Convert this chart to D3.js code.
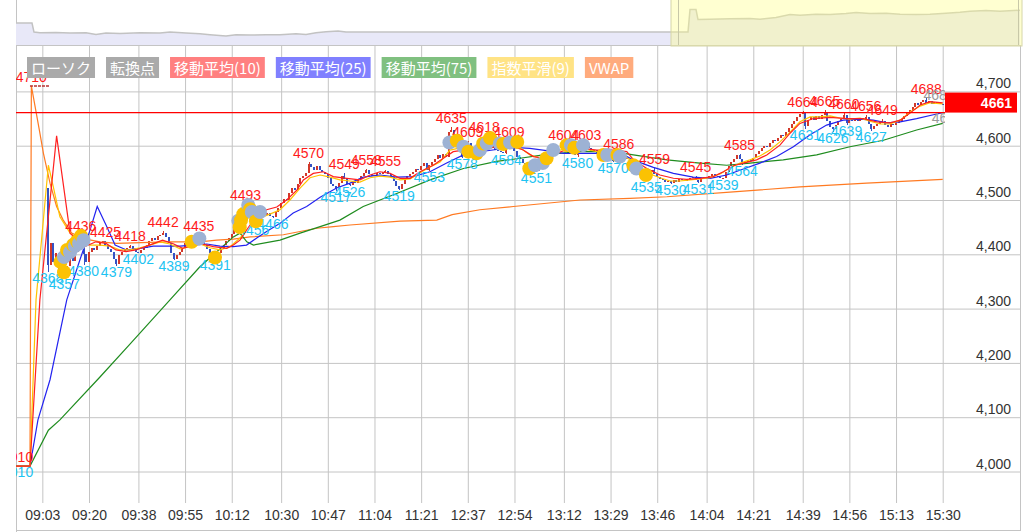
<!DOCTYPE html>
<html><head><meta charset="utf-8">
<script src="https://cdn.jsdelivr.net/npm/d3@7"></script>
<style>
body{margin:0;background:#fff;}
svg{display:block;font-family:"Liberation Sans",Arial,sans-serif;}
</style></head><body>
<svg id="c" width="1025" height="532"></svg>
<script>
// ---------- DATA ----------
const tickLabels = ["09:03","09:20","09:38","09:55","10:12","10:30","10:47","11:04","11:21","12:37","12:54","13:12","13:29","13:46","14:04","14:21","14:39","14:56","15:13","15:30"];
const yTicks = [4000,4100,4200,4300,4400,4500,4600,4700];
const lastIndex = 331;
const currentPrice = 4661;
const startIndex = 5;
const firstOpen = 4522;
const closes = [
4380,4420,4385,4402,4372,4390,4362,4378,4395,4388,
4405,4418,4430,4400,4385,4405,4412,4408,4416,4420,
4424,4418,4410,4404,4392,4382,4398,4404,4409,4412,
4416,4410,4405,4403,4408,4412,4418,4425,4430,4427,
4433,4436,4440,4432,4420,4402,4392,4398,4405,4412,
4420,4425,4428,4431,4430,4433,4425,4418,4410,4402,
4396,4393,4402,4410,4418,4425,4430,4438,4448,4460,
4470,4482,4490,4480,4458,4465,4470,4478,4475,4472,
4476,4470,4468,4478,4486,4494,4502,4500,4512,4522,
4518,4530,4540,4545,4550,4566,4560,4555,4562,4556,
4552,4548,4540,4530,4525,4520,4532,4545,4538,4530,
4528,4534,4532,4538,4545,4550,4556,4548,4544,4546,
4550,4548,4552,4554,4548,4542,4535,4526,4521,4530,
4538,4544,4548,4552,4558,4556,4562,4568,4556,4565,
4570,4576,4582,4578,4584,4580,4625,4628,4615,4600,
4590,4580,4595,4605,4598,4590,4600,4608,4615,4605,
4598,4600,4595,4592,4590,4588,4586,4600,4606,4598,
4590,4580,4575,4568,4560,4565,4558,4555,4553,4560,
4568,4575,4582,4590,4594,4598,4596,4600,4602,4596,
4590,4586,4582,4590,4596,4600,4601,4595,4590,4592,
4586,4584,4580,4578,4576,4574,4572,4578,4584,4580,
4578,4575,4570,4566,4560,4552,4545,4538,4545,4552,
4556,4548,4542,4538,4536,4534,4535,4532,4536,4534,
4538,4536,4535,4538,4540,4542,4536,4533,4538,4542,
4540,4545,4548,4545,4543,4540,4541,4552,4562,4570,
4576,4582,4575,4567,4570,4574,4572,4578,4584,4590,
4595,4600,4598,4605,4610,4608,4615,4620,4618,4625,
4632,4640,4645,4652,4658,4660,4636,4648,4652,4648,
4655,4650,4656,4662,4645,4635,4630,4638,4645,4650,
4656,4642,4648,4645,4650,4646,4650,4648,4653,4640,
4630,4636,4640,4644,4646,4638,4635,4640,4638,4642,
4645,4650,4655,4660,4665,4672,4678,4675,4680,4685,
4678,4682,4676,4680,4678,4676,4675];

// local highs (red) and lows (cyan): [index, value]
const highMarks = [[-1,4710],[-6,4010],[17,4436],[26,4425],[35,4418],[47,4442],[60,4435],[77,4493],[100,4570],[113,4549],[121,4558],[128,4555],[152,4635],[158,4609],[164,4618],[173,4609],[193,4604],[201,4603],[213,4586],[226,4559],[241,4545],[257,4585],[280,4664],[288,4665],[295,4660],[303,4656],[309,4649],[325,4688]];
const lowMarks = [[-6,4010],[5,4368],[11,4357],[18,4380],[30,4379],[38,4402],[51,4389],[66,4391],[80,4456],[87,4466],[110,4517],[115,4526],[133,4519],[144,4553],[156,4578],[172,4584],[183,4551],[198,4580],[211,4570],[223,4535],[232,4530],[242,4531],[251,4539],[258,4564],[281,4631],[291,4626],[296,4639],[305,4627]];
const endMarks = [[324,4684,"4688"],[327,4641,"4651"]];

// turning points: [index, value, kind] g=gold b=grey-blue
const turnPoints = [
[9.6,4386,"g"],[10.9,4367,"g"],[10.9,4395,"b"],[12,4408,"g"],[13.1,4404,"b"],[14.2,4417,"g"],[14.9,4415,"b"],[15.6,4424,"g"],[16.4,4420,"b"],[17.1,4434,"g"],[18,4426,"b"],
[57.4,4423,"g"],[60.2,4429,"b"],[65.9,4394,"g"],
[74.4,4462,"b"],[74.9,4450,"g"],[75.4,4463,"g"],[76.2,4474,"g"],[78,4491,"b"],[78.7,4483,"g"],[79.3,4478,"b"],[80.8,4461,"g"],[82.3,4478,"b"],
[151.3,4606,"b"],[154,4609,"g"],[156.4,4598,"b"],[158.2,4589,"g"],[161.2,4586,"g"],[162.4,4592,"b"],[163.6,4604,"g"],[164.9,4604,"b"],[166.1,4614,"g"],[169.7,4604,"b"],[170.9,4603,"g"],[173.4,4606,"b"],[176,4607,"g"],
[180.4,4558,"g"],[182.5,4564,"b"],[185.3,4568,"b"],[186.7,4577,"g"],[189.1,4592,"b"],[194,4601,"g"],[195.6,4601,"b"],[196.8,4596,"g"],[200,4601,"b"],
[207.4,4583,"g"],[208.8,4583,"b"],[212.5,4583,"g"],[213.4,4580,"b"],[218.3,4564,"g"],[219.4,4558,"b"],[222.9,4546,"g"]];

// indicator lines: [index, value]
const ma10 = [[-7,4010],[-1.5,4010],[2.1,4316],[8.2,4618],[13.1,4439],[18.3,4414],[22.5,4423],[26.2,4420],[29.8,4408],[33.5,4405],[37.1,4408],[42,4417],[46.8,4426],[50.5,4420],[54.1,4411],[60.4,4420],[65.3,4414],[70.2,4411],[72.6,4417],[75,4426],[77.5,4445],[79.9,4463],[84.7,4482],[88.4,4487],[92,4500],[95.7,4518],[98.1,4537],[101.7,4549],[105.4,4552],[109,4543],[113.9,4540],[118.7,4537],[122.4,4546],[126,4552],[129.7,4549],[133.3,4540],[137,4540],[140.6,4552],[145.4,4564],[149.1,4577],[152.7,4589],[156.4,4592],[162.4,4592],[168.5,4598],[174.6,4598],[178.2,4592],[181.9,4580],[185.5,4577],[190.4,4586],[195.3,4595],[200.1,4595],[205,4592],[211,4592],[215.9,4589],[218.4,4574],[223.2,4558],[228,4546],[232.9,4540],[237.7,4538],[242.6,4540],[247.4,4543],[251.1,4552],[254.7,4563],[258.4,4568],[263.2,4574],[266.9,4583],[271.7,4601],[275.4,4623],[279,4641],[283.9,4650],[290,4652],[296.1,4650],[302.1,4650],[307,4644],[311.8,4642],[315.5,4647],[319.1,4660],[322.8,4675],[326.4,4681],[331,4679]];
const ema9 = [[-7,4010],[-1.5,4010],[0.7,4316],[5.2,4564],[7,4524],[9.4,4469],[13.1,4439],[16.7,4426],[20.4,4417],[24,4417],[27.7,4415],[31.3,4408],[35,4408],[38.6,4412],[42.2,4417],[45.9,4423],[49.5,4419],[53.2,4410],[56.8,4414],[60.4,4419],[64.1,4412],[67.7,4408],[71.4,4414],[75,4430],[78.6,4452],[82.3,4467],[85.9,4474],[89.6,4482],[93.2,4500],[96.9,4522],[100.5,4541],[104.2,4546],[107.8,4542],[111.4,4537],[115.1,4535],[118.7,4533],[122.4,4541],[126,4544],[129.7,4542],[133.3,4537],[137,4539],[140.6,4550],[144.2,4561],[147.9,4570],[151.5,4592],[155.2,4596],[158.8,4588],[162.4,4592],[166.1,4599],[169.7,4601],[173.4,4601],[177,4596],[180.6,4583],[184.3,4577],[187.9,4583],[191.6,4592],[195.2,4596],[198.9,4596],[202.5,4592],[206.2,4588],[209.8,4587],[213.4,4585],[217.1,4574],[220.7,4559],[224.4,4548],[228,4541],[231.7,4535],[235.3,4535],[239,4537],[242.6,4539],[246.2,4541],[249.9,4548],[253.5,4559],[257.2,4568],[260.8,4574],[264.4,4581],[268.1,4592],[271.7,4607],[275.4,4625],[279,4644],[282.7,4653],[286.3,4653],[290,4655],[293.6,4651],[297.2,4649],[300.9,4651],[304.5,4645],[308.2,4640],[311.8,4640],[315.5,4647],[319.1,4662],[322.8,4673],[326.4,4679],[331,4677]];
const ma25 = [[-7,4010],[-1.5,4010],[1.4,4095],[5.8,4169],[11.9,4316],[16.7,4390],[20.4,4445],[23,4488],[26.2,4454],[29.5,4417],[33.7,4408],[38.6,4411],[43.4,4415],[48.3,4415],[53.1,4415],[58,4417],[62.9,4419],[67.7,4415],[72.6,4414],[77.4,4417],[81.1,4430],[84.7,4442],[89.6,4457],[94.4,4476],[99.3,4488],[104.2,4505],[110.2,4522],[115.1,4531],[119.9,4542],[126,4546],[132.1,4542],[138.1,4543],[144.2,4552],[150.3,4568],[156.4,4583],[162.4,4589],[168.5,4593],[174.6,4597],[180.6,4595],[186.7,4591],[192.8,4586],[198.9,4586],[205,4586],[211,4587],[214.7,4583],[219,4572],[225.6,4560],[232.9,4549],[240.1,4542],[246.3,4540],[252.3,4546],[258.4,4557],[264.4,4568],[270.5,4580],[276.6,4598],[282.7,4620],[288.7,4638],[294.8,4647],[300.9,4649],[305.7,4647],[310.6,4642],[315.5,4644],[321.5,4650],[327.6,4657],[331,4661]];
const ma75 = [[-7,4010],[-1.5,4010],[5.2,4076],[9.4,4095],[24,4174],[35,4235],[49.5,4316],[60.4,4377],[72.6,4432],[75,4439],[77.5,4423],[79.9,4417],[89.6,4426],[96.9,4439],[104.2,4451],[111.4,4463],[119.9,4488],[132.1,4512],[144.2,4537],[156.4,4558],[168.5,4571],[174.6,4575],[186.7,4584],[198.9,4589],[211,4589],[218.3,4583],[230.5,4574],[242.6,4568],[252.3,4564],[260.8,4568],[272.9,4574],[285.1,4583],[297.2,4598],[309.4,4610],[321.5,4629],[331,4641]];
const vwap = [[-7,4010],[-1.5,4010],[-1,4710],[1.9,4629],[3.4,4586],[5.8,4531],[8.2,4488],[10.6,4463],[13.7,4439],[17.9,4429],[24,4423],[30.1,4420],[36.1,4421],[48.3,4423],[60.4,4423],[66.5,4426],[72.6,4428],[78.7,4432],[90.8,4436],[96.9,4442],[103,4448],[109,4451],[115.1,4454],[133.3,4461],[146.7,4463],[152.3,4473],[162.4,4482],[174.6,4488],[186.7,4494],[198.9,4500],[217.1,4503],[230.5,4506],[254.7,4515],[279,4524],[303.3,4531],[331,4538]];

// navigator (longer history)
const navIdx = [0,8,9,12,20,27,35,40,45,52,62,72,77,85,92,97,105,110,117,125,132,140,145,150,155,161,165,336,337,340,341,347,357,367,372,380,387,392,400,407,415,420,427,435,442,450,457,465,472,477,485,492,502];
const navVal = [4289,4289,4010,3988,3998,3979,3988,3936,3979,3967,3988,3979,4010,3979,3957,3926,3886,3926,3917,3926,3926,3957,3936,3988,4019,4041,4010,4010,4710,4710,4400,4413,4422,4431,4413,4462,4555,4536,4567,4555,4586,4617,4586,4598,4567,4555,4567,4598,4629,4660,4679,4660,4691];
const navWindow = [327.5, 503];

const legendItems = ["ローソク","転換点","移動平均(10)","移動平均(25)","移動平均(75)","指数平滑(9)","VWAP"];
const legendColors = ["#aaaaaa","#aaaaaa","#ff8080","#8080ff","#80c080","#ffe385","#ffab7d"];

// ---------- DRAW ----------
const L = 16, R = 1021, T = 46, GB = 503, B = 531, DATA_R = 945;
const svg = d3.select('#c');
const xs = d3.scaleLinear().domain([0, lastIndex]).range([34.1, 942.7]);
const ys = d3.scaleLinear().domain([4000, 4700]).range([471.5, 91.4]);

function timeToIndex(t){const [h,m]=t.split(':').map(Number);const mm=h*60+m;return mm<=690?mm-540:151+(mm-750);}
const tickIdx = tickLabels.map(timeToIndex);

svg.append('defs').append('clipPath').attr('id','plot').append('rect')
  .attr('x',L).attr('y',T).attr('width',DATA_R-L).attr('height',GB-T);

// grid + axes
const gx = svg.append('g').attr('transform',`translate(0,${GB})`)
  .call(d3.axisBottom(xs).tickValues(tickIdx).tickFormat((d,k)=>tickLabels[k]).tickSize(-(GB-T)).tickPadding(7));
gx.select('.domain').remove();
gx.attr('font-size',14).attr('font-family','"Liberation Sans",Arial,sans-serif');
gx.selectAll('line').attr('stroke','#c4c4c4');
gx.selectAll('text').attr('fill','#333');

const gy = svg.append('g').attr('transform',`translate(${L},0)`)
  .call(d3.axisRight(ys).tickValues(yTicks).tickFormat(d3.format(',')).tickSize(R-L).tickPadding(0));
gy.select('.domain').remove();
gy.attr('font-size',14).attr('font-family','"Liberation Sans",Arial,sans-serif');
gy.selectAll('line').attr('stroke','#c4c4c4');
gy.selectAll('text').attr('x',1011-L).attr('text-anchor','end').attr('dy','-0.25em').attr('fill','#333');

// borders
const border = svg.append('g').attr('stroke','#c4c4c4').attr('shape-rendering','crispEdges');
border.append('line').attr('x1',L+0.5).attr('x2',L+0.5).attr('y1',0).attr('y2',B+1);
border.append('line').attr('x1',L).attr('x2',R).attr('y1',B-0.5).attr('y2',B-0.5);
border.append('line').attr('x1',R-0.5).attr('x2',R-0.5).attr('y1',T).attr('y2',B);

const plot = svg.append('g').attr('clip-path','url(#plot)');

// candles (open = previous close); wicks reach the marked highs / lows
const candles = closes.map((c,k)=>({i:startIndex+k, o:k===0?firstOpen:closes[k-1], c}));
const hiAt = new Map(highMarks.map(d=>[d[0],d[1]]));
const loAt = new Map(lowMarks.map(d=>[d[0],d[1]]));
candles.forEach(d=>{
  d.h = Math.max(d.o,d.c, hiAt.has(d.i)?hiAt.get(d.i):-Infinity);
  d.l = Math.min(d.o,d.c, loAt.has(d.i)?loAt.get(d.i):Infinity);
});
const cg = plot.append('g').attr('shape-rendering','crispEdges');
const col = d=>d.c>=d.o?'#d2382a':'#3452c4';
cg.selectAll('line').data(candles).join('line')
  .attr('x1',d=>Math.round(xs(d.i))+0.5).attr('x2',d=>Math.round(xs(d.i))+0.5)
  .attr('y1',d=>ys(d.h)).attr('y2',d=>ys(d.l)).attr('stroke',col);
cg.selectAll('rect').data(candles).join('rect')
  .attr('x',d=>Math.round(xs(d.i))-1).attr('width',2)
  .attr('y',d=>ys(Math.max(d.o,d.c))).attr('height',d=>Math.max(1,Math.abs(ys(d.o)-ys(d.c))))
  .attr('fill',col);

// indicator lines
const line = d3.line().x(d=>xs(d[0])).y(d=>ys(d[1]));
[[vwap,'#ff7a22'],[ma75,'#1f8c1f'],[ma25,'#2323f0'],[ema9,'#ffc400'],[ma10,'#ff2020']].forEach(([pts,c])=>{
  plot.append('path').datum(pts).attr('d',line).attr('fill','none').attr('stroke',c).attr('stroke-width',1.2);
});

// current price line
plot.append('line').attr('x1',L).attr('x2',DATA_R).attr('y1',ys(currentPrice)).attr('y2',ys(currentPrice))
  .attr('stroke','#ff0000').attr('stroke-width',1.2);

// high/low labels
const lab = plot.append('g').attr('font-size',14).attr('text-anchor','middle');
lab.selectAll('text.h').data(highMarks).join('text').attr('class','h')
  .attr('x',d=>xs(d[0])).attr('y',d=>ys(d[1])-4).attr('fill','#ff1a1a').text(d=>d[1]);
lab.selectAll('text.l').data(lowMarks).join('text').attr('class','l')
  .attr('x',d=>xs(d[0])).attr('y',d=>ys(d[1])+11).attr('fill','#1ec3f2').text(d=>d[1]);
// marker under the top high
plot.append('line').attr('x1',xs(-1.5)).attr('x2',xs(-1.5)+20).attr('y1',ys(4710)).attr('y2',ys(4710))
  .attr('stroke','#b83030').attr('stroke-width',1.5).attr('stroke-dasharray','3,1');

// end labels (grey), clipped at data edge
plot.append('g').attr('font-size',14).attr('fill','#9a9a9a').selectAll('text').data(endMarks).join('text')
  .attr('x',d=>xs(d[0])).attr('y',d=>ys(d[1])).text(d=>d[2]);

// turning points
plot.append('g').selectAll('circle').data(turnPoints).join('circle')
  .attr('cx',d=>xs(d[0])).attr('cy',d=>ys(d[1])).attr('r',7)
  .attr('fill',d=>d[2]==='g'?'#fbc203':'#9db2d4');

// price tag
svg.append('rect').attr('x',DATA_R).attr('y',ys(currentPrice)-20).attr('width',72).attr('height',20).attr('fill','#ff0000');
svg.append('text').attr('x',1012).attr('y',ys(currentPrice)-5).attr('text-anchor','end')
  .attr('font-size',14).attr('font-weight','bold').attr('fill','#fff').text(currentPrice);

// legend
const lg = svg.append('g').attr('font-family','"Noto Sans CJK JP",sans-serif').attr('font-size',15);
let lx = 27;
legendItems.forEach((t,k)=>{
  const g = lg.append('g');
  const r = g.append('rect').attr('y',57).attr('height',21).attr('fill',legendColors[k]);
  const tx = g.append('text').attr('x',lx+4).attr('y',73.5).attr('fill','#fff').text(t);
  const w = tx.node().getComputedTextLength()+8;
  r.attr('x',lx).attr('width',w);
  lx += w + 11;
});

// navigator
const nx = d3.scaleLinear().domain([0,502]).range([L,1020]);
const ny = d3.scaleLinear().domain([3590,5010]).range([45.5,0]);
const navData = navIdx.map((n,k)=>[n,navVal[k]]);
const nav = svg.append('g');
nav.append('path').datum(navData).attr('d',d3.area().x(d=>nx(d[0])).y0(45.5).y1(d=>ny(d[1])))
  .attr('fill','#e8e8f8');
nav.append('path').datum(navData).attr('d',d3.line().x(d=>nx(d[0])).y(d=>ny(d[1])))
  .attr('fill','none').attr('stroke','#c2c2c2').attr('stroke-width',1.5);
nav.append('line').attr('x1',L).attr('x2',R).attr('y1',45.5).attr('y2',45.5).attr('stroke','#c4c4c4');
const wx0 = nx(navWindow[0]), wx1 = nx(navWindow[1]);
nav.append('rect').attr('x',wx0).attr('y',-1).attr('width',wx1-wx0).attr('height',47)
  .attr('fill','rgb(255,255,140)').attr('fill-opacity',0.4).attr('stroke','#d6d6a8');
nav.append('line').attr('x1',wx0+7.5).attr('x2',wx0+7.5).attr('y1',0).attr('y2',45).attr('stroke','#c8c8a8');
nav.append('line').attr('x1',wx1-3.5).attr('x2',wx1-3.5).attr('y1',0).attr('y2',45).attr('stroke','#c8c8a8');
</script></body></html>
